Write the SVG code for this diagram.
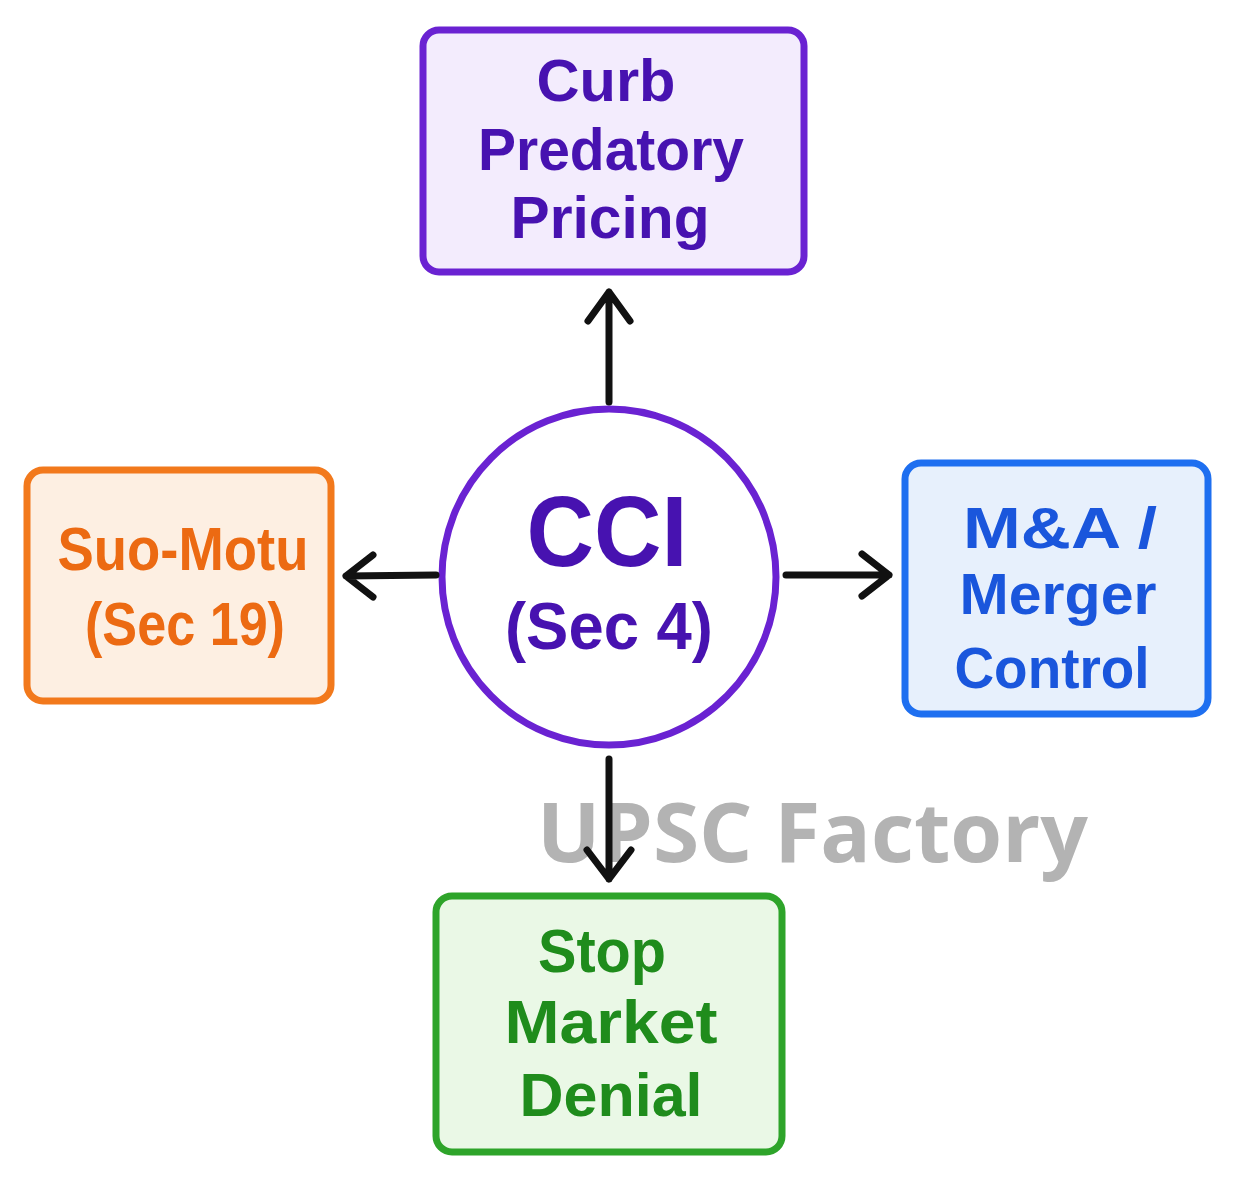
<svg xmlns="http://www.w3.org/2000/svg" width="1234" height="1179" viewBox="0 0 1234 1179">
<defs>
<style>
.lbl{font-family:"Liberation Sans",Arial,sans-serif;font-weight:700;text-anchor:middle}
.box{stroke-width:7;stroke-linejoin:round}
.conn{stroke:#111;stroke-width:7;stroke-linecap:round;stroke-linejoin:round;fill:none}
.wm{font-family:"Open Sans","Liberation Sans",sans-serif;font-weight:700;fill:#b3b3b3}
</style>
</defs>
<rect width="1234" height="1179" fill="#ffffff"/>
<text class="wm" x="537" y="862" font-size="82" textLength="551" lengthAdjust="spacingAndGlyphs">UPSC Factory</text>
<g id="node-top">
<rect class="box" x="423" y="30" width="381" height="242" rx="16" fill="#f3ecfd" stroke="#6a22d2"/>
<g class="lbl" fill="#4712b0" font-size="60">
<text x="606" y="101" textLength="139" lengthAdjust="spacingAndGlyphs">Curb</text>
<text x="611" y="170" textLength="266" lengthAdjust="spacingAndGlyphs">Predatory</text>
<text x="610" y="238" textLength="199" lengthAdjust="spacingAndGlyphs">Pricing</text>
</g>
</g>
<g id="node-center">
<ellipse cx="609" cy="577" rx="167" ry="168" fill="#ffffff" stroke="#6a22d2" stroke-width="7"/>
<g class="lbl" fill="#4712b0">
<text x="607" y="566" font-size="100" textLength="161" lengthAdjust="spacingAndGlyphs">CCI</text>
<text x="609" y="649" font-size="66" textLength="208" lengthAdjust="spacingAndGlyphs">(Sec 4)</text>
</g>
</g>
<g id="node-left">
<rect class="box" x="27" y="470" width="304" height="231" rx="16" fill="#fdefe2" stroke="#f2791c"/>
<g class="lbl" fill="#ec6a12" font-size="62">
<text x="183" y="570" textLength="251" lengthAdjust="spacingAndGlyphs">Suo-Motu</text>
<text x="185" y="645" textLength="200" lengthAdjust="spacingAndGlyphs">(Sec 19)</text>
</g>
</g>
<g id="node-right">
<rect class="box" x="905" y="463" width="303" height="251" rx="16" fill="#e7f0fc" stroke="#1e6ff0"/>
<g class="lbl" fill="#1a56dc" font-size="58">
<text x="1060" y="548" textLength="194" lengthAdjust="spacingAndGlyphs">M&amp;A /</text>
<text x="1058" y="614" textLength="197" lengthAdjust="spacingAndGlyphs">Merger</text>
<text x="1052" y="688" textLength="195" lengthAdjust="spacingAndGlyphs">Control</text>
</g>
</g>
<g id="node-bottom">
<rect class="box" x="436" y="896" width="346" height="256" rx="16" fill="#eaf8e6" stroke="#2ea42a"/>
<g class="lbl" fill="#1f8c1c" font-size="62">
<text x="602" y="972" textLength="128" lengthAdjust="spacingAndGlyphs">Stop</text>
<text x="611" y="1043" textLength="213" lengthAdjust="spacingAndGlyphs">Market</text>
<text x="611" y="1116" textLength="183" lengthAdjust="spacingAndGlyphs">Denial</text>
</g>
</g>
<g id="connectors">
<path class="conn" d="M609 402 L609 292 M588 321 L609 292 L630 321"/>
<path class="conn" d="M436 575 L346 576 M373 555 L346 576 L373 597"/>
<path class="conn" d="M786 575 L889 575 M862 554 L889 575 L862 596"/>
<path class="conn" d="M609 759 L609 879 M587 850 L609 879 L631 850"/>
</g>
</svg>
